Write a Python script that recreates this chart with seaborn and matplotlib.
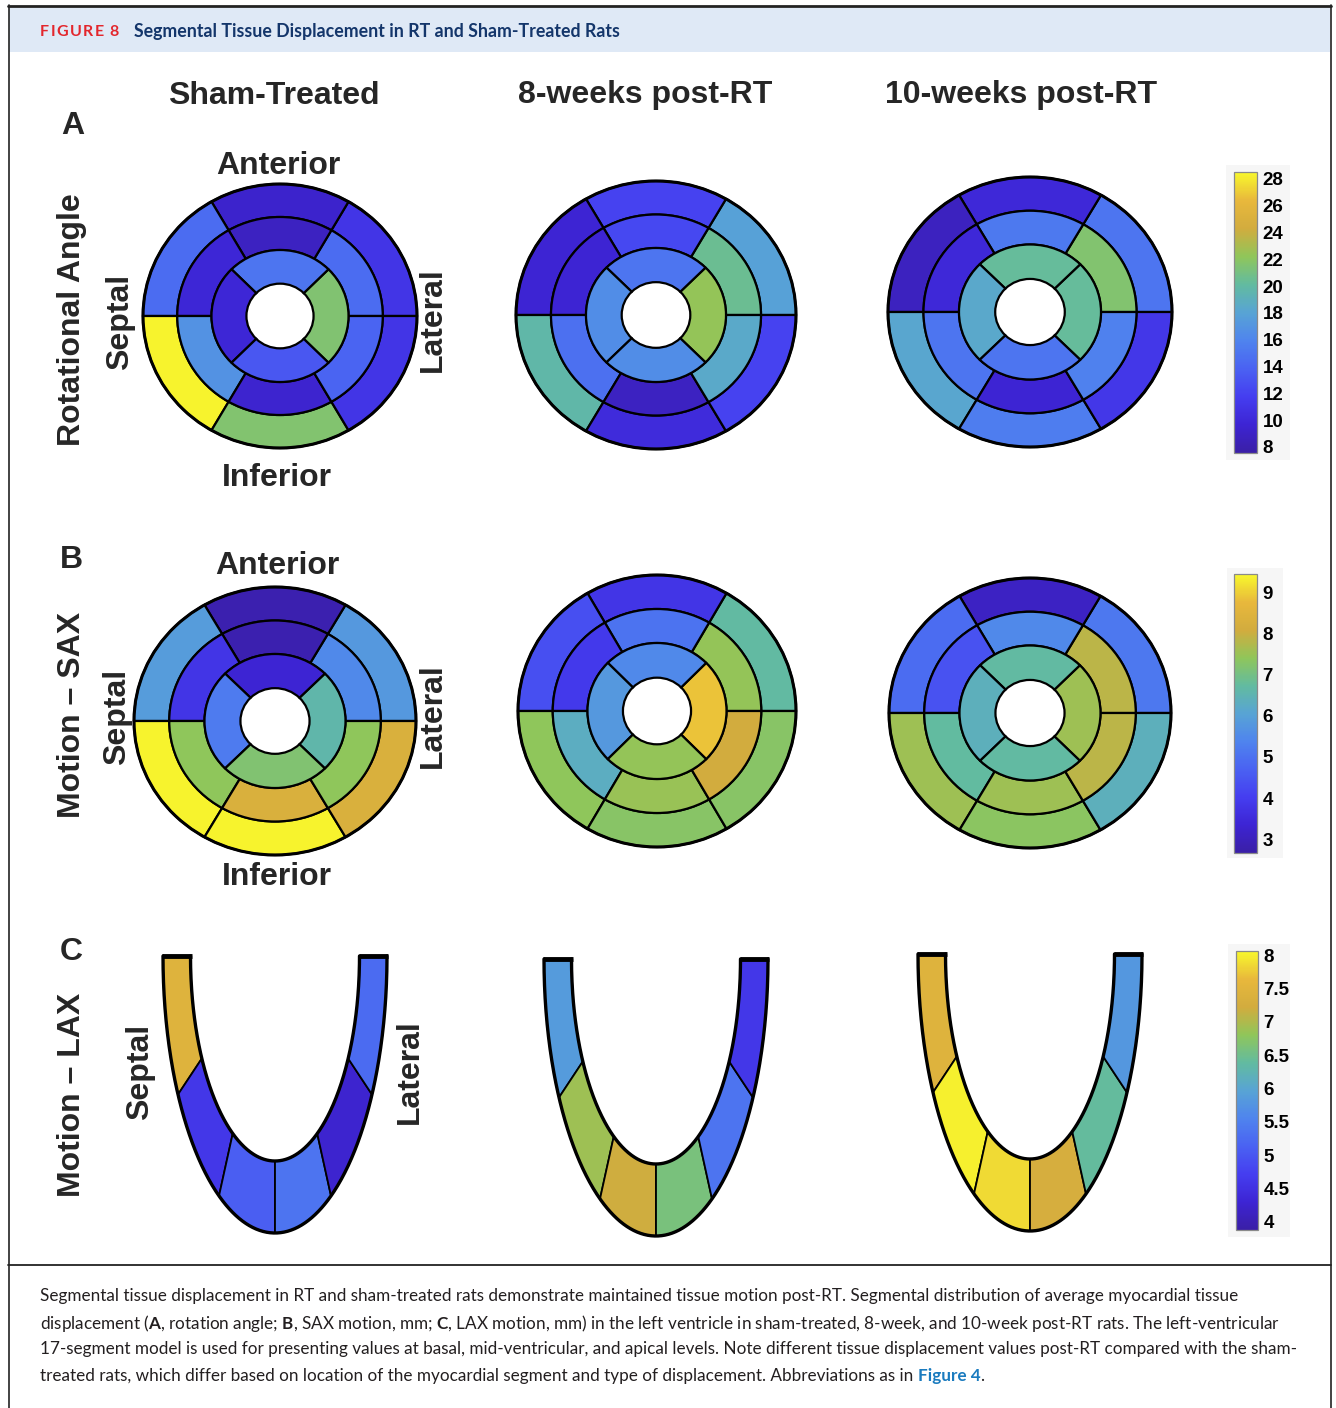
import numpy as np
import matplotlib
matplotlib.use("Agg")
import matplotlib.pyplot as plt
import seaborn as sns
from matplotlib.patches import Wedge, Polygon, Rectangle, Ellipse
from matplotlib.colors import Normalize
from matplotlib.cm import ScalarMappable

# ---------------- data ----------------
column_titles = ["Sham-Treated", "8-weeks post-RT", "10-weeks post-RT"]
row_titles = ["Rotational Angle", "Motion \u2013 SAX", "Motion \u2013 LAX"]
panel_letters = ["A", "B", "C"]

# basal & mid rings: 60-degree sectors counter-clockwise from 3 o'clock
# [upper-right, anterior, upper-left, lower-left, inferior, lower-right]
# apical ring: 90-degree sectors [lateral, anterior, septal, inferior]
rot_sham_basal = [11.0, 9.3, 14.5, 28.3, 21.6, 11.0]
rot_sham_mid = [14.5, 8.8, 9.8, 16.8, 9.5, 14.0]
rot_sham_apical = [21.5, 15.0, 9.8, 13.2]
rot_8w_basal = [17.8, 12.0, 9.6, 19.8, 10.2, 12.0]
rot_8w_mid = [20.5, 12.3, 9.6, 14.7, 8.8, 18.5]
rot_8w_apical = [22.3, 15.0, 16.5, 16.5]
rot_10w_basal = [15.0, 10.0, 8.7, 18.2, 15.5, 11.2]
rot_10w_mid = [21.6, 15.3, 10.0, 15.0, 9.6, 15.8]
rot_10w_apical = [20.3, 20.3, 18.4, 15.0]

sax_sham_basal = [5.8, 2.8, 5.9, 9.4, 9.4, 8.3]
sax_sham_mid = [5.5, 2.8, 3.8, 7.4, 8.3, 7.4]
sax_sham_apical = [6.6, 3.35, 5.2, 7.2]
sax_8w_basal = [6.7, 3.8, 4.35, 7.4, 7.3, 7.3]
sax_8w_mid = [7.45, 5.05, 3.9, 6.3, 7.5, 8.1]
sax_8w_apical = [8.9, 5.5, 5.8, 7.45]
sax_10w_basal = [5.15, 3.1, 4.9, 7.55, 7.35, 6.4]
sax_10w_mid = [7.85, 5.5, 4.4, 6.75, 7.55, 7.85]
sax_10w_apical = [7.55, 6.7, 6.4, 6.7]

# LAX: [septal basal, septal mid, septal apical, lateral apical, lateral mid, lateral basal]
lax_sham = [7.45, 4.6, 5.1, 5.35, 4.26, 5.25]
lax_8w = [5.85, 6.9, 7.2, 6.6, 5.35, 4.6]
lax_10w = [7.45, 8.0, 7.85, 7.3, 6.4, 5.8]

rot_range = (7.55, 28.5)
rot_ticks = [8, 10, 12, 14, 16, 18, 20, 22, 24, 26, 28]
sax_range = (2.66, 9.46)
sax_ticks = [3, 4, 5, 6, 7, 8, 9]
lax_range = (3.88, 8.06)
lax_ticks = [4, 4.5, 5, 5.5, 6, 6.5, 7, 7.5, 8]
lax_tick_labels = ["4", "4.5", "5", "5.5", "6", "6.5", "7", "7.5", "8"]

caption_lines = [
    "Segmental tissue displacement in RT and sham-treated rats demonstrate maintained tissue motion post-RT. Segmental distribution of average myocardial tissue",
    "displacement ($\\mathbf{A}$, rotation angle; $\\mathbf{B}$, SAX motion, mm; $\\mathbf{C}$, LAX motion, mm) in the left ventricle in sham-treated, 8-week, and 10-week post-RT rats. The left-ventricular",
    "17-segment model is used for presenting values at basal, mid-ventricular, and apical levels. Note different tissue displacement values post-RT compared with the sham-",
    "treated rats, which differ based on location of the myocardial segment and type of displacement. Abbreviations as in",
]

# ---------------- style ----------------
sns.set_theme(style="white")
plt.rcParams["font.family"] = ["Liberation Sans", "DejaVu Sans"]
plt.rcParams["mathtext.fontset"] = "custom"
plt.rcParams["mathtext.rm"] = "Lato"
plt.rcParams["mathtext.bf"] = "Lato:bold"

parula_like = sns.blend_palette(
    ["#3a1fa6", "#3d24d4", "#453ef0", "#4a62f2", "#4f84ee", "#58a4d4",
     "#62bba0", "#90c65a", "#d2ac3e", "#e8b83c", "#f8f82c"],
    n_colors=256, as_cmap=True)

W, H = 1336, 1408
fig = plt.figure(figsize=(W / 100, H / 100), dpi=100)

base = fig.add_axes([0, 0, 1, 1])
base.set_xlim(0, W)
base.set_ylim(H, 0)
base.axis("off")


def px_axes(x0, y0, w, h):
    return fig.add_axes([x0 / W, 1 - (y0 + h) / H, w / W, h / H])


renderer = fig.canvas.get_renderer()


def to_data_x(disp_x):
    return base.transData.inverted().transform((disp_x, 0))[0]


# frame and header
base.add_patch(Rectangle((9, 8), 1321, 44, facecolor="#dfe9f6", edgecolor="none"))
base.plot([8, 1331], [6, 6], color="#222222", lw=2.0)
base.plot([8.5, 8.5], [5, H], color="#222222", lw=1.2)
base.plot([1331, 1331], [5, H], color="#222222", lw=1.2)
base.plot([8, 1331], [1265, 1265], color="#222222", lw=1.3)

# letter-spaced "FIGURE 8"
xc = 40
for ch in "FIGURE 8":
    t = base.text(xc, 31.5, ch, color="#e3262c", fontsize=11.5, fontweight="bold",
                  family=["Lato", "DejaVu Sans"], va="center", ha="left")
    if ch == " ":
        xc += 5
    else:
        bb = t.get_window_extent(renderer)
        xc = to_data_x(bb.x1) + 1.4

title = base.text(134, 31, "Segmental Tissue Displacement in RT and Sham-Treated Rats",
                  color="#14366b", fontsize=12, fontweight="bold",
                  family=["Lato", "DejaVu Sans"], va="center", ha="left")


def fit_width(t, target):
    w = t.get_window_extent(renderer).width
    t.set_fontsize(t.get_fontsize() * target / w)


fit_width(title, 483)

# headings
for x, s in zip([274, 645, 1021], column_titles):
    base.text(x, 92, s, fontsize=23, fontweight="bold", ha="center", va="center_baseline")
for (x, y), s in zip([(73, 123), (71, 556), (71, 948)], panel_letters):
    base.text(x, y, s, fontsize=23, fontweight="bold", ha="center", va="center_baseline")
for (x, y), s in zip([(72, 320), (72, 715), (72, 1095)], row_titles):
    base.text(x, y, s, fontsize=23, fontweight="bold", ha="center", va="center", rotation=90)

orient = [
    (278, 166, "Anterior", 0), (277, 478, "Inferior", 0), (120, 322, "Septal", 90), (433, 320, "Lateral", 90),
    (277, 566, "Anterior", 0), (277, 877, "Inferior", 0), (117, 717, "Septal", 90), (433, 716, "Lateral", 90),
    (140, 1072, "Septal", 90), (410, 1072, "Lateral", 90),
]
for x, y, s, r in orient:
    base.text(x, y, s, fontsize=23, fontweight="bold", ha="center", va="center", rotation=r)


# ---------------- bullseyes ----------------
def bullseye(cx, cy, rx, ry, basal, mid, apical, norm):
    pad = 1.03
    ax = px_axes(cx - rx * pad, cy - ry * pad, 2 * rx * pad, 2 * ry * pad)
    radii = [0.245, 0.5, 0.75, 1.0]
    for i, v in enumerate(basal):
        ax.add_patch(Wedge((0, 0), radii[3], 60 * i, 60 * (i + 1), width=radii[3] - radii[2],
                           facecolor=parula_like(norm(v)), edgecolor="black", lw=1.6))
    for i, v in enumerate(mid):
        ax.add_patch(Wedge((0, 0), radii[2], 60 * i, 60 * (i + 1), width=radii[2] - radii[1],
                           facecolor=parula_like(norm(v)), edgecolor="black", lw=1.6))
    for i, v in enumerate(apical):
        ax.add_patch(Wedge((0, 0), radii[1], -45 + 90 * i, 45 + 90 * i, width=radii[1] - radii[0],
                           facecolor=parula_like(norm(v)), edgecolor="black", lw=1.6))
    ax.add_patch(Ellipse((0, 0), 2, 2, fill=False, lw=2.2, ec="black"))
    ax.set_xlim(-pad, pad)
    ax.set_ylim(-pad, pad)
    ax.axis("off")


rot_norm = Normalize(*rot_range)
sax_norm = Normalize(*sax_range)
lax_norm = Normalize(*lax_range)

bullseye(280, 316, 137, 132, rot_sham_basal, rot_sham_mid, rot_sham_apical, rot_norm)
bullseye(656, 315, 140, 134, rot_8w_basal, rot_8w_mid, rot_8w_apical, rot_norm)
bullseye(1030, 312, 142, 135, rot_10w_basal, rot_10w_mid, rot_10w_apical, rot_norm)

bullseye(275, 721, 141, 134, sax_sham_basal, sax_sham_mid, sax_sham_apical, sax_norm)
bullseye(657, 711, 139, 136, sax_8w_basal, sax_8w_mid, sax_8w_apical, sax_norm)
bullseye(1030, 713, 141, 135, sax_10w_basal, sax_10w_mid, sax_10w_apical, sax_norm)


# ---------------- LAX U-shapes ----------------
def lax_u(cx, top, values, norm):
    ax = px_axes(cx - 130, top - 10, 260, 300)
    a_o, b_o, a_i, b_i = 112, 277, 84.5, 205
    bounds = np.linspace(0, np.pi, len(values) + 1)
    for k, v in enumerate(values):
        t = np.linspace(bounds[k], bounds[k + 1], 60)
        outer = np.column_stack([-a_o * np.cos(t), b_o * np.sin(t)])
        ti = t[::-1]
        inner = np.column_stack([-a_i * np.cos(ti), b_i * np.sin(ti)])
        ax.add_patch(Polygon(np.vstack([outer, inner]), closed=True,
                             facecolor=parula_like(norm(v)), edgecolor="black", lw=1.3))
    t = np.linspace(0, np.pi, 400)
    ax.plot(-a_o * np.cos(t), b_o * np.sin(t), color="black", lw=2.4)
    ax.plot(-a_i * np.cos(t), b_i * np.sin(t), color="black", lw=2.4)
    ax.plot([-a_o - 1, -a_i + 1], [0, 0], color="black", lw=3.5, solid_capstyle="butt")
    ax.plot([a_i - 1, a_o + 1], [0, 0], color="black", lw=3.5, solid_capstyle="butt")
    ax.set_xlim(-130, 130)
    ax.set_ylim(290, -10)
    ax.axis("off")


lax_u(275, 956, lax_sham, lax_norm)
lax_u(656, 959, lax_8w, lax_norm)
lax_u(1030, 954, lax_10w, lax_norm)


# ---------------- colorbars ----------------
def colorbar(rect, bg, norm, ticks, labels=None):
    base.add_patch(Rectangle((bg[0], bg[1]), bg[2], bg[3], facecolor="#f6f6f6", edgecolor="none"))
    cax = px_axes(*rect)
    cb = fig.colorbar(ScalarMappable(norm=norm, cmap=parula_like), cax=cax, ticks=ticks)
    if labels is not None:
        cb.set_ticklabels(labels)
    cb.outline.set_edgecolor("#8a8a8a")
    cb.outline.set_linewidth(0.9)
    cax.tick_params(direction="in", length=3, width=0.8, color="#333333", pad=4,
                    labelsize=13.5, labelcolor="black")
    for lab in cax.get_yticklabels():
        lab.set_fontweight("bold")


colorbar((1234, 172, 23, 281), (1226, 165, 64, 295), rot_norm, rot_ticks)
colorbar((1234, 574, 23, 279), (1227, 568, 56, 290), sax_norm, sax_ticks)
colorbar((1236, 951, 22, 279), (1228, 944, 62, 293), lax_norm, lax_ticks, lax_tick_labels)

# ---------------- caption ----------------
cap_y = [1296, 1323, 1349, 1376]
cap_texts = []
for y, s in zip(cap_y, caption_lines):
    cap_texts.append(base.text(40, y, s, fontsize=12, family=["Lato", "DejaVu Sans"],
                               color="#231f20", ha="left", va="center"))
w3 = cap_texts[2].get_window_extent(renderer).width
fs = 12 * 1252 / w3
for t in cap_texts:
    t.set_fontsize(fs)

bb = cap_texts[3].get_window_extent(renderer)
fig_ref = base.text(to_data_x(bb.x1) + fs * 0.35, cap_y[3], "Figure 4", fontsize=fs, fontweight="bold",
                    family=["Lato", "DejaVu Sans"], color="#1a7bbf", ha="left", va="center")
bb2 = fig_ref.get_window_extent(renderer)
base.text(to_data_x(bb2.x1), cap_y[3], ".", fontsize=fs, family=["Lato", "DejaVu Sans"],
          color="#231f20", ha="left", va="center")

fig.savefig("out.png", dpi=100)
